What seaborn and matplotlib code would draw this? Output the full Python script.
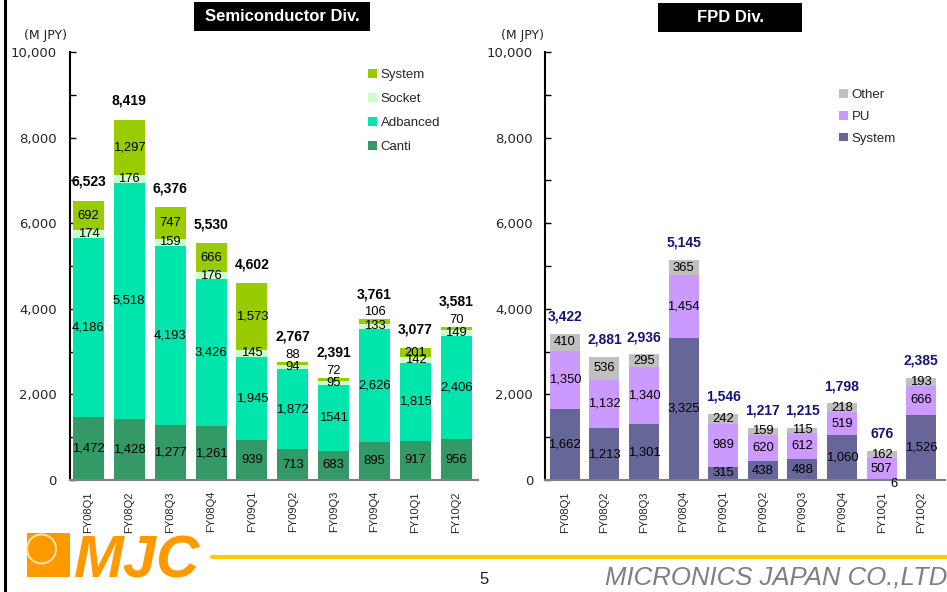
import numpy as np
import matplotlib
matplotlib.use("Agg")
import matplotlib.pyplot as plt
import seaborn as sns
from matplotlib.patches import Rectangle, Ellipse, Patch
from matplotlib.lines import Line2D
from matplotlib.ticker import MultipleLocator, FuncFormatter

# ---- data (M JPY) ----
quarters = ["FY08Q1", "FY08Q2", "FY08Q3", "FY08Q4", "FY09Q1",
            "FY09Q2", "FY09Q3", "FY09Q4", "FY10Q1", "FY10Q2"]

semi_canti = [1472, 1428, 1277, 1261, 939, 713, 683, 895, 917, 956]
semi_advanced = [4186, 5518, 4193, 3426, 1945, 1872, 1541, 2626, 1815, 2406]
semi_socket = [174, 176, 159, 176, 145, 94, 95, 133, 142, 149]
semi_system = [692, 1297, 747, 666, 1573, 88, 72, 106, 201, 70]
semi_total = [6523, 8419, 6376, 5530, 4602, 2767, 2391, 3761, 3077, 3581]

fpd_system = [1662, 1213, 1301, 3325, 315, 438, 488, 1060, 6, 1526]
fpd_pu = [1350, 1132, 1340, 1454, 989, 620, 612, 519, 507, 666]
fpd_other = [410, 536, 295, 365, 242, 159, 115, 218, 162, 193]
fpd_total = [3422, 2881, 2936, 5145, 1546, 1217, 1215, 1798, 676, 2385]

semi_names = ["Canti", "Adbanced", "Socket", "System"]
semi_colors = ["#339966", "#00E5AC", "#CCFFCC", "#99CC00"]
fpd_names = ["System", "PU", "Other"]
fpd_colors = ["#666699", "#CC99FF", "#C0C0C0"]

sns.set_theme(style="white")
plt.rcParams["font.family"] = ["Liberation Sans", "DejaVu Sans"]

W, H = 947, 592
fig = plt.figure(figsize=(W / 100, H / 100), dpi=100)
fig.patch.set_facecolor("white")


def fx(x):
    return x / W


def fy(y):
    return 1 - y / H


def px_axes(x0, y0, x1, y1):
    return fig.add_axes([fx(x0), fy(y1), (x1 - x0) / W, (y1 - y0) / H])


ax1 = px_axes(70, 52, 478, 480)
ax2 = px_axes(545, 52, 945, 480)


def stacked(ax, series, colors, width):
    bottom = np.zeros(len(quarters))
    parts = []
    for vals, c in zip(series, colors):
        vals = np.asarray(vals, dtype=float)
        sns.barplot(x=quarters, y=vals, bottom=bottom.copy(), color=c,
                    saturation=1, width=width, ax=ax, linewidth=0)
        parts.append((bottom.copy(), vals))
        bottom = bottom + vals
    return parts


def style_axes(ax, xlim, pad):
    ax.set_ylim(0, 10000)
    ax.set_xlim(*xlim)
    ax.yaxis.set_major_locator(MultipleLocator(2000))
    ax.yaxis.set_minor_locator(MultipleLocator(1000))
    ax.yaxis.set_major_formatter(FuncFormatter(lambda v, p: f"{v:,.0f}"))
    ax.tick_params(axis="y", which="both", direction="in", length=4,
                   width=1, color="black", left=True)
    ax.tick_params(axis="y", which="major", labelsize=9.5, pad=pad)
    ax.tick_params(axis="x", length=0, pad=8, labelrotation=90, labelsize=8)
    for lab in ax.get_yticklabels():
        lab.set_family("DejaVu Sans")
    for s in ["top", "right"]:
        ax.spines[s].set_visible(False)
    ax.spines["left"].set_color("black")
    ax.spines["left"].set_linewidth(1.5)
    ax.spines["bottom"].set_color("#808080")
    ax.spines["bottom"].set_linewidth(1.5)
    ax.set_xlabel("")
    ax.set_ylabel("")
    ax.grid(False)
    if ax.get_legend() is not None:
        ax.get_legend().remove()


seg_fs = 9.4

# ---- Semiconductor Div. ----
parts = stacked(ax1, [semi_canti, semi_advanced, semi_socket, semi_system],
                semi_colors, 0.76)
for k, (b, v) in enumerate(parts):
    for i in range(len(quarters)):
        text = "1541" if (k == 1 and i == 6) else f"{int(v[i]):,}"
        if k == 3 and v[i] < 150:
            # thin top segments carry their label just above the bar
            ax1.annotate(text, xy=(i, b[i] + v[i]), xytext=(0, 7),
                         textcoords="offset pixels", ha="center", va="center",
                         fontsize=seg_fs, color="black")
        else:
            ax1.annotate(text, xy=(i, b[i] + v[i] / 2), ha="center",
                         va="center", fontsize=seg_fs, color="black")
for i, t in enumerate(semi_total):
    off = 25 if semi_system[i] < 150 else 19
    ax1.annotate(f"{t:,}", xy=(i, t), xytext=(0, off), textcoords="offset pixels",
                 ha="center", va="center", fontsize=10, fontweight="bold",
                 color="black")
style_axes(ax1, (-0.45, 9.53), 9.5)

# ---- FPD Div. ----
parts = stacked(ax2, [fpd_system, fpd_pu, fpd_other], fpd_colors, 0.76)
for k, (b, v) in enumerate(parts):
    for i in range(len(quarters)):
        if v[i] < 50:
            ax2.annotate(f"{int(v[i]):,}", xy=(i, 0), xytext=(12, -4),
                         textcoords="offset pixels", ha="center", va="center",
                         fontsize=seg_fs, color="black")
        else:
            ax2.annotate(f"{int(v[i]):,}", xy=(i, b[i] + v[i] / 2),
                         ha="center", va="center", fontsize=seg_fs,
                         color="black")
for i, t in enumerate(fpd_total):
    ax2.annotate(f"{t:,}", xy=(i, t), xytext=(0, 17), textcoords="offset pixels",
                 ha="center", va="center", fontsize=10, fontweight="bold",
                 color="#14147A")
style_axes(ax2, (-0.5, 9.6), 8.6)

# ---- legends ----
semi_handles = [Patch(facecolor=c, edgecolor="none", label=n)
                for n, c in zip(semi_names, semi_colors)][::-1]
fpd_handles = [Patch(facecolor=c, edgecolor="none", label=n)
               for n, c in zip(fpd_names, fpd_colors)][::-1]
leg_kw = dict(loc="upper left", bbox_transform=fig.transFigure, frameon=False,
              fontsize=9.5, handlelength=0.65, handleheight=0.65,
              handletextpad=0.3, borderpad=0, borderaxespad=0)
fig.legend(handles=semi_handles, bbox_to_anchor=(fx(368), fy(69)),
           labelspacing=0.9, **leg_kw)
fig.legend(handles=fpd_handles, bbox_to_anchor=(fx(839), fy(89)),
           labelspacing=0.74, **leg_kw)

# ---- titles and unit labels ----
for (x0, y0, x1, y1, txt) in [(194, 2, 370, 31, "Semiconductor Div."),
                              (658, 3, 802, 32, "FPD Div.")]:
    fig.add_artist(Rectangle((fx(x0), fy(y1)), (x1 - x0) / W, (y1 - y0) / H,
                             transform=fig.transFigure, facecolor="black",
                             edgecolor="none"))
    fig.text(fx((x0 + x1) / 2), fy((y0 + y1) / 2), txt, color="white",
             fontsize=12, fontweight="bold", ha="center", va="center")

fig.text(fx(45), fy(35), "(M JPY)", fontsize=9, ha="center", va="center",
         family="DejaVu Sans", color="#222222")
fig.text(fx(522), fy(35), "(M JPY)", fontsize=9, ha="center", va="center",
         family="DejaVu Sans", color="#222222")

# ---- page frame, logo and footer ----
fig.add_artist(Line2D([fx(4.5), fx(4.5)], [0, 1], transform=fig.transFigure,
                      color="black", lw=2.2))
fig.add_artist(Line2D([fx(212), 1], [fy(557), fy(557)], transform=fig.transFigure,
                      color="#FFCC00", lw=3))
orange = "#FF9900"
fig.add_artist(Rectangle((fx(27), fy(577)), 43 / W, 44 / H,
                         transform=fig.transFigure, facecolor=orange,
                         edgecolor="none"))
fig.add_artist(Ellipse((fx(41.5), fy(549)), 29 / W, 29 / H,
                       facecolor=orange, edgecolor="#FFE6A8", lw=1.4,
                       transform=fig.transFigure))
fig.text(fx(74), fy(577), "MJC", color=orange, fontsize=43, fontweight="bold",
         fontstyle="italic", ha="left", va="baseline")

fig.text(fx(484), fy(580), "5", fontsize=12, ha="center", va="center",
         color="#222222")
fig.text(fx(605), fy(585), "MICRONICS JAPAN CO.,LTD", fontsize=18.5,
         fontstyle="italic", color="#7F7F7F", ha="left", va="baseline")

fig.savefig("out.png", dpi=100, facecolor="white")
